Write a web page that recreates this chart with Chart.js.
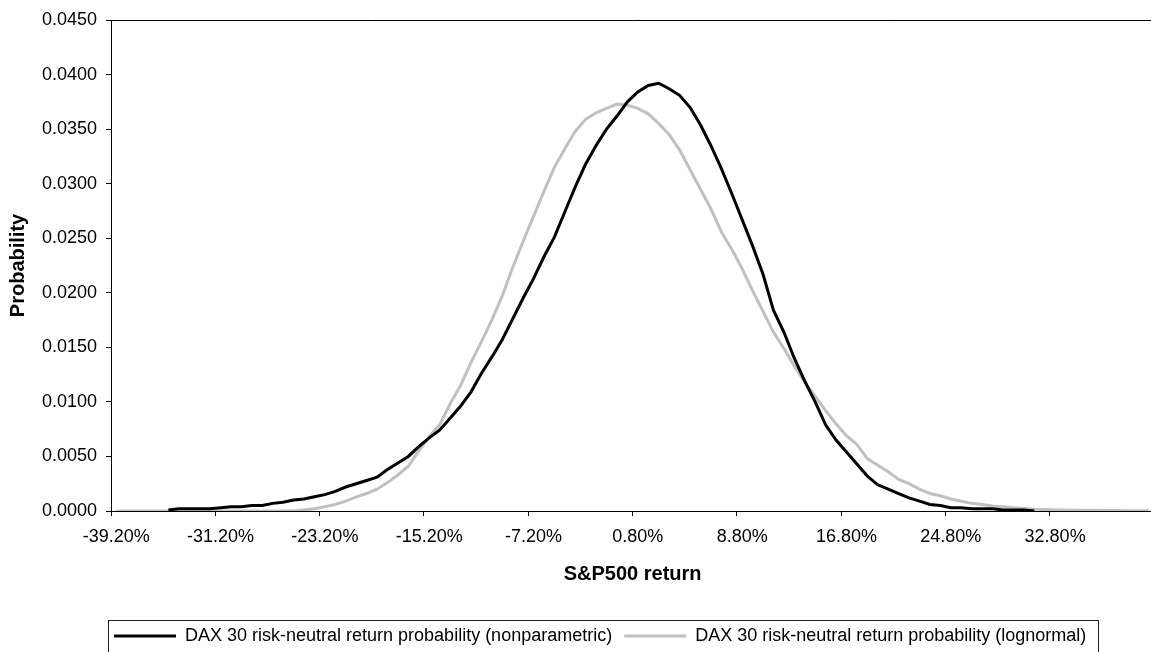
<!DOCTYPE html>
<html>
<head>
<meta charset="utf-8">
<title>DAX 30 risk-neutral return probability</title>
<script src="https://cdn.jsdelivr.net/npm/chart.js@4/dist/chart.umd.min.js"></script>
<style>
  html, body { margin: 0; padding: 0; background: #fff; overflow: hidden; }
  canvas { display: block; }
</style>
</head>
<body>
<canvas id="chart" width="1159" height="655"></canvas>
<script>
// Return grid (percent), one category per 0.8% step
const returns = [
  -39.2, -38.4, -37.6, -36.8, -36.0, -35.2, -34.4, -33.6, -32.8, -32.0,
  -31.2, -30.4, -29.6, -28.8, -28.0, -27.2, -26.4, -25.6, -24.8, -24.0,
  -23.2, -22.4, -21.6, -20.8, -20.0, -19.2, -18.4, -17.6, -16.8, -16.0,
  -15.2, -14.4, -13.6, -12.8, -12.0, -11.2, -10.4, -9.6, -8.8, -8.0,
  -7.2, -6.4, -5.6, -4.8, -4.0, -3.2, -2.4, -1.6, -0.8, 0.0,
  0.8, 1.6, 2.4, 3.2, 4.0, 4.8, 5.6, 6.4, 7.2, 8.0,
  8.8, 9.6, 10.4, 11.2, 12.0, 12.8, 13.6, 14.4, 15.2, 16.0,
  16.8, 17.6, 18.4, 19.2, 20.0, 20.8, 21.6, 22.4, 23.2, 24.0,
  24.8, 25.6, 26.4, 27.2, 28.0, 28.8, 29.6, 30.4, 31.2, 32.0,
  32.8, 33.6, 34.4, 35.2, 36.0, 36.8, 37.6, 38.4, 39.2, 40.0
];

// Nonparametric risk-neutral density (null where no estimate exists)
const nonparametric = [
  null, null, null, null, null, 0.0001, 0.0002, 0.0002, 0.0002, 0.0002,
  0.0003, 0.0004, 0.0004, 0.0005, 0.0005, 0.0007, 0.0008, 0.0010, 0.0011, 0.0013,
  0.0015, 0.0018, 0.0022, 0.0025, 0.0028, 0.0031, 0.0038, 0.0044, 0.0050, 0.0059,
  0.0067, 0.0074, 0.0085, 0.0096, 0.0109, 0.0126, 0.0141, 0.0157, 0.0176, 0.0195,
  0.0213, 0.0233, 0.0251, 0.0274, 0.0297, 0.0318, 0.0335, 0.0350, 0.0362, 0.0375,
  0.0384, 0.0390, 0.0392, 0.0387, 0.0381, 0.0370, 0.0354, 0.0335, 0.0314, 0.0291,
  0.0267, 0.0243, 0.0217, 0.0184, 0.0164, 0.0140, 0.0119, 0.0100, 0.0079, 0.0065,
  0.0054, 0.0043, 0.0032, 0.0024, 0.0020, 0.0016, 0.0012, 0.0009, 0.0006, 0.0005,
  0.0003, 0.0003, 0.0002, 0.0002, 0.0002, 0.0001, 0.0001, 0.0001, 0.0000, null,
  null, null, null, null, null, null, null, null, null, null
];

// Lognormal risk-neutral density
const lognormal = [
  0.0000, 0.0000, 0.0000, 0.0000, 0.0000, 0.0000, 0.0000, 0.0000, 0.0000, 0.0000,
  0.0000, 0.0000, 0.0000, 0.0000, 0.0000, 0.0000, 0.0000, 0.0000, 0.0001, 0.0002,
  0.0004, 0.0006, 0.0009, 0.0013, 0.0016, 0.0020, 0.0026, 0.0033, 0.0041, 0.0055,
  0.0068, 0.0079, 0.0098, 0.0115, 0.0136, 0.0155, 0.0175, 0.0197, 0.0223, 0.0247,
  0.0270, 0.0293, 0.0315, 0.0332, 0.0348, 0.0359, 0.0365, 0.0369, 0.0373, 0.0372,
  0.0369, 0.0364, 0.0355, 0.0345, 0.0331, 0.0313, 0.0295, 0.0277, 0.0256, 0.0240,
  0.0222, 0.0202, 0.0183, 0.0164, 0.0149, 0.0133, 0.0118, 0.0105, 0.0092, 0.0080,
  0.0069, 0.0061, 0.0048, 0.0042, 0.0036, 0.0029, 0.0025, 0.0020, 0.0016, 0.0014,
  0.0011, 0.0009, 0.0007, 0.0006, 0.00045, 0.0004, 0.0003, 0.00022, 0.00015, 0.00013,
  0.0001, 0.0001, 0.00008, 0.00007, 0.00006, 0.00005, 0.00004, 0.00003, 0.00003, 0.00002
];

// Value-axis range and tick step
const yTicks = { min: 0, max: 0.045, step: 0.005 };
const labelEvery = 10;

const seriesNames = [
  'DAX 30 risk-neutral return probability (nonparametric)',
  'DAX 30 risk-neutral return probability (lognormal)'
];

Chart.defaults.font.family = '"Liberation Sans", Arial, sans-serif';
Chart.defaults.color = '#000';

// Plot frame line along the top, boxed legend placed under the plot's left edge
const framePlugin = {
  id: 'frame',
  afterLayout(chart) {
    chart.legend.left = chart.chartArea.left - 9;
  },
  afterDraw(chart) {
    const { ctx, chartArea: a, legend } = chart;
    ctx.save();
    ctx.strokeStyle = '#000';
    ctx.lineWidth = 1;
    const ty = Math.round(a.top) + 0.5;
    ctx.beginPath();
    ctx.moveTo(a.left, ty);
    ctx.lineTo(a.right, ty);
    ctx.stroke();

    const x0 = Math.round(legend.left + 6) + 0.5;
    const x1 = Math.round(legend.left + legend.lineWidths[0] + 12) + 0.5;
    const y0 = Math.round(legend.top + 5) + 0.5;
    const y1 = legend.bottom + 20;
    ctx.strokeStyle = '#222';
    ctx.strokeRect(x0, y0, x1 - x0, y1 - y0);
    ctx.restore();
  }
};

new Chart(document.getElementById('chart'), {
  type: 'line',
  data: {
    labels: returns.map(r => r.toFixed(2) + '%'),
    datasets: [
      {
        label: seriesNames[0],
        data: nonparametric,
        borderColor: '#000000',
        borderWidth: 3,
        pointRadius: 0,
        tension: 0,
        spanGaps: false
      },
      {
        label: seriesNames[1],
        data: lognormal,
        borderColor: '#c0c0c0',
        borderWidth: 3,
        pointRadius: 0,
        tension: 0
      }
    ]
  },
  options: {
    responsive: false,
    animation: false,
    events: [],
    layout: { padding: { top: 20, left: 0, right: 0, bottom: 0 } },
    plugins: {
      tooltip: { enabled: false },
      legend: {
        position: 'bottom',
        align: 'start',
        labels: {
          boxWidth: 62,
          boxHeight: 3,
          padding: 12,
          font: { size: 18 },
          color: '#000',
          generateLabels: chart => chart.data.datasets.map((ds, i) => ({
            text: ds.label,
            fillStyle: ds.borderColor,
            strokeStyle: ds.borderColor,
            lineWidth: 0,
            hidden: false,
            datasetIndex: i
          }))
        }
      }
    },
    scales: {
      x: {
        type: 'category',
        offset: true,
        grid: {
          offset: true,
          drawOnChartArea: false,
          drawTicks: true,
          tickLength: 5,
          lineWidth: 1,
          color: c => (c.index % labelEvery === 0 ? '#000' : 'rgba(0,0,0,0)')
        },
        border: { display: true, color: '#000', width: 1 },
        ticks: {
          autoSkip: false,
          maxRotation: 0,
          minRotation: 0,
          padding: 10,
          font: { size: 18 },
          color: '#000',
          callback: function (value, index) {
            return index % labelEvery === 0 ? this.getLabelForValue(value) : '';
          }
        },
        title: {
          display: true,
          text: 'S&P500 return',
          font: { size: 20, weight: 'bold' },
          color: '#000',
          padding: { top: 0, bottom: 29 }
        },
        afterFit(scale) { scale.height = 104; }
      },
      y: {
        min: yTicks.min,
        max: yTicks.max,
        grid: {
          drawOnChartArea: false,
          drawTicks: true,
          tickLength: 5,
          color: '#000'
        },
        border: { display: true, color: '#000', width: 1 },
        ticks: {
          stepSize: yTicks.step,
          padding: 9,
          font: { size: 18 },
          color: '#000',
          callback: v => v.toFixed(4)
        },
        title: {
          display: true,
          text: 'Probability',
          font: { size: 20, weight: 'bold' },
          color: '#000',
          padding: { top: 6, bottom: 0 }
        },
        afterFit(scale) { scale.width = 111; }
      }
    }
  },
  plugins: [framePlugin]
});
</script>
</body>
</html>
